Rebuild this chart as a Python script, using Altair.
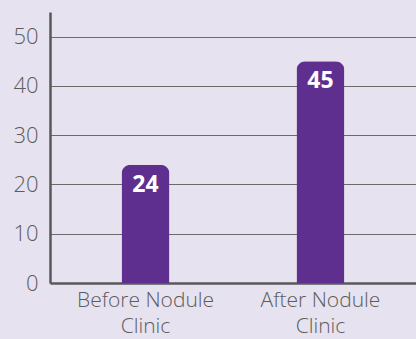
import altair as alt
import pandas as pd

categories = ["Before Nodule Clinic", "After Nodule Clinic"]
values = [24, 45]
y_ticks = [0, 10, 20, 30, 40, 50]

df = pd.DataFrame({"cat": categories, "val": values})

FONT = "Open Sans"
x = alt.X("cat:N", sort=categories, title=None,
          scale=alt.Scale(paddingInner=0.726, paddingOuter=0.409),
          axis=alt.Axis(labelAngle=0, labelFont=FONT, labelFontSize=21,
                        labelFontWeight=300,
                        labelColor="#5c5c5c", labelPadding=6, ticks=False,
                        domainColor="#58585a", domainWidth=2.5,
                        labelLineHeight=26,
                        labelExpr="[replace(datum.label, ' Clinic', ''), 'Clinic']"))
y = alt.Y("val:Q", title=None,
          scale=alt.Scale(domain=[0, 55], nice=False),
          axis=alt.Axis(values=y_ticks, labelFont=FONT, labelFontSize=22,
                        labelFontWeight=300,
                        labelColor="#5c5c5c", labelPadding=12, ticks=False,
                        domainColor="#58585a", domainWidth=2.5,
                        grid=True, gridColor="#6a6a6a", gridWidth=1.2))

bars = alt.Chart(df).mark_bar(color="#5f2f8f", cornerRadiusTopLeft=9,
                              cornerRadiusTopRight=9).encode(x=x, y=y)
labels = alt.Chart(df).mark_text(color="white", font="Open Sans", fontWeight="bold",
                                 fontSize=23, baseline="alphabetic", dy=27).encode(
    x=alt.X("cat:N", sort=categories), y="val:Q", text="val:Q")

chart = (bars + labels).properties(
    width=366, height=271, background="#e7e2ef",
    autosize=alt.AutoSizeParams(type="none"),
    padding={"left": 50, "top": 12, "right": 0, "bottom": 56},
).configure_view(stroke=None)

chart.save("out.html", embed_options={"renderer": "svg", "actions": False})
